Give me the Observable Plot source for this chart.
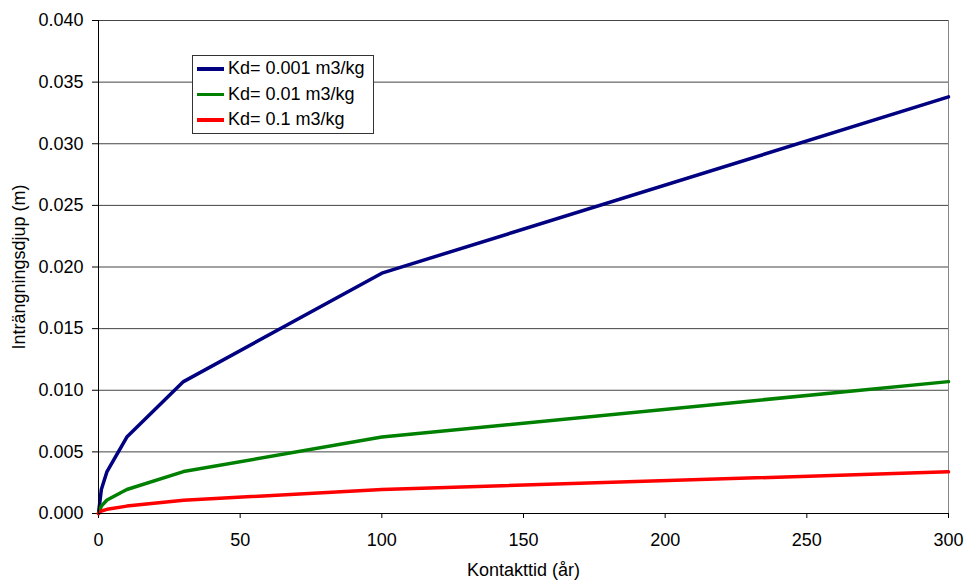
<!DOCTYPE html>
<html><head><meta charset="utf-8">
<script src="https://cdn.jsdelivr.net/npm/d3@7"></script>
<script src="https://cdn.jsdelivr.net/npm/@observablehq/plot@0.6"></script>
<style>
body{margin:0;background:#fff;font-family:"Liberation Sans",Arial,sans-serif}
#wrap{position:relative;width:965px;height:583px}
#legend{position:absolute;left:192px;top:55px;width:180px;height:77px;border:1px solid #333;background:#fff;font-size:18px;color:#000}
#legend .row{height:25.5px;display:flex;align-items:center;padding-left:4px}
#legend .sw{width:27px;height:3.5px;margin-right:4px}
</style></head><body><div id="wrap"></div>
<script>
const time = [0, 1, 3, 10, 30, 100, 300];
const kd0001 = [0, 0.00195, 0.0034, 0.0062, 0.0107, 0.0195, 0.0338];
const kd001 = [0, 0.0006, 0.0011, 0.00195, 0.0034, 0.0062, 0.0107];
const kd01 = [0, 0.0002, 0.00034, 0.0006, 0.00107, 0.00195, 0.00338];
const seriesNames = ["Kd= 0.001 m3/kg", "Kd= 0.01 m3/kg", "Kd= 0.1 m3/kg"];
const seriesColors = ["#000080", "#008000", "#FF0000"];
const xTicks = [0, 50, 100, 150, 200, 250, 300];
const yTicks = [0, 0.005, 0.01, 0.015, 0.02, 0.025, 0.03, 0.035, 0.04];

const seriesValues = [kd0001, kd001, kd01];
const rows = [];
seriesNames.forEach((name, i) => time.forEach((t, j) => rows.push({t, v: seriesValues[i][j], name})));

const chart = Plot.plot({
  width: 965, height: 583,
  marginLeft: 98, marginRight: 17, marginTop: 20, marginBottom: 70,
  style: {fontFamily: '"Liberation Sans", Arial, sans-serif', fontSize: "18px", color: "#000", background: "#fff"},
  x: {domain: [0, 300], ticks: xTicks, label: "Kontakttid (år)"},
  y: {domain: [0, 0.04], ticks: yTicks, label: "Inträngningsdjup (m)"},
  color: {domain: seriesNames, range: seriesColors},
  marks: [
    Plot.ruleY(yTicks.filter(d => d > 0), {stroke: "#444", strokeWidth: 1}),
    Plot.ruleX([300], {stroke: "#888", strokeWidth: 1}),
    Plot.axisX({ticks: xTicks, tickSize: 5, tickPadding: 15, label: "Kontakttid (år)", labelAnchor: "center", labelArrow: "none", labelOffset: 62, stroke: "#000"}),
    Plot.axisY({ticks: yTicks, tickSize: 6, tickPadding: 9, tickFormat: d3.format(".3f"), label: "Inträngningsdjup (m)", labelAnchor: "center", labelArrow: "none", labelOffset: 86, stroke: "#000"}),
    Plot.line(rows, {x: "t", y: "v", z: "name", stroke: "name", strokeWidth: 3.5}),
    Plot.ruleX([0], {stroke: "#000", strokeWidth: 1}),
    Plot.ruleY([0], {stroke: "#000", strokeWidth: 1})
  ]
});
const wrap = document.getElementById("wrap");
wrap.appendChild(chart);

const legend = document.createElement("div");
legend.id = "legend";
seriesNames.forEach((n, i) => {
  const r = document.createElement("div");
  r.className = "row";
  r.innerHTML = `<span class="sw" style="background:${seriesColors[i]}"></span><span>${n}</span>`;
  legend.appendChild(r);
});
wrap.appendChild(legend);
</script></body></html>
